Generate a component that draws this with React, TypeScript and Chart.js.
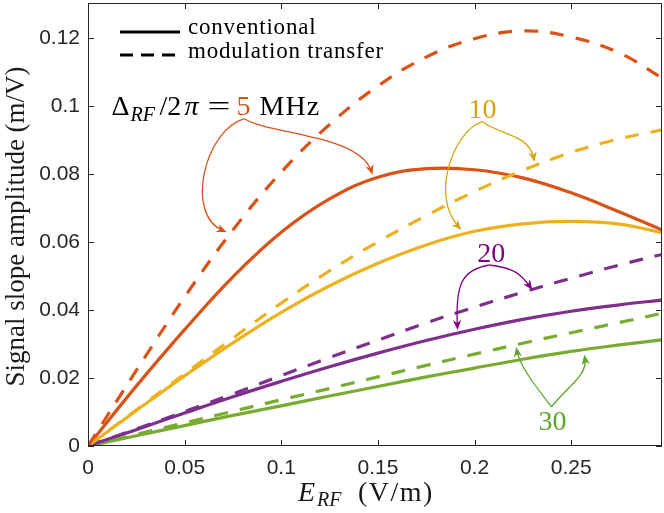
import React, { useEffect, useRef } from "react";
import { Chart, registerables } from "chart.js";
Chart.register(...registerables);

// ---- data ----
const fieldEV = [0, 0.025, 0.05, 0.075, 0.1, 0.125, 0.15, 0.175, 0.2, 0.225, 0.25, 0.275, 0.297];
const conv5 = [0, 0.0176, 0.0342, 0.0497, 0.0628, 0.0726, 0.079, 0.0815, 0.0812, 0.0788, 0.0744, 0.0688, 0.0635];
const mt5 = [0, 0.0222, 0.0438, 0.0635, 0.0805, 0.0945, 0.1058, 0.1143, 0.1197, 0.122, 0.1202, 0.1155, 0.1082];
const conv10 = [0, 0.0104, 0.0206, 0.0303, 0.0393, 0.0471, 0.0537, 0.0591, 0.0631, 0.0653, 0.066, 0.0652, 0.0627];
const mt10 = [0, 0.0106, 0.0212, 0.0317, 0.042, 0.0515, 0.06, 0.0677, 0.0748, 0.081, 0.0863, 0.0903, 0.0929];
const conv20 = [0, 0.0048, 0.0097, 0.0145, 0.019, 0.0233, 0.0273, 0.031, 0.0343, 0.0372, 0.0396, 0.0415, 0.0429];
const mt20 = [0, 0.005, 0.0101, 0.0153, 0.0207, 0.026, 0.0311, 0.0362, 0.0408, 0.0452, 0.0493, 0.0532, 0.0563];
const conv30 = [0, 0.003, 0.006, 0.009, 0.0118, 0.0147, 0.0175, 0.0203, 0.0229, 0.0255, 0.0278, 0.0297, 0.0312];
const mt30 = [0, 0.0034, 0.0068, 0.0102, 0.0136, 0.0169, 0.0203, 0.0237, 0.027, 0.0302, 0.0333, 0.0363, 0.039];

const xTicks = [0, 0.05, 0.1, 0.15, 0.2, 0.25];
const yTicks = [0, 0.02, 0.04, 0.06, 0.08, 0.1, 0.12];
const xRange = [0, 0.297];
const yRange = [0, 0.1302];

const detunings = ["5", "10", "20", "30"];
const lineColors = ["#D95319", "#EDB120", "#7E2F8E", "#77AC30"];
const labelColors = ["#D95319", "#D6A40C", "#800080", "#5EA52B"];

const legendLabels = ["conventional", "modulation transfer"];
const xTitle = ["E", "RF", "(V/m)"];
const yTitle = "Signal slope amplitude (m/V)";

// annotation anchors in data coordinates: label position + two bezier arrows [start, cp1, cp2, tip]
const annotLabels = [
  { at: [0.2041, 0.0965] },
  { at: [0.2087, 0.0541] },
  { at: [0.2403, 0.0047] },
];
const annotArrows = [
  [
    [[0.081, 0.0962], [0.0603, 0.0929], [0.05, 0.0679], [0.0717, 0.0629]],
    [[0.081, 0.0962], [0.094, 0.0915], [0.1405, 0.0915], [0.1472, 0.0797]],
  ],
  [
    [[0.2041, 0.0953], [0.1896, 0.0929], [0.1767, 0.0738], [0.1932, 0.0635]],
    [[0.2041, 0.0953], [0.2129, 0.0915], [0.2284, 0.0915], [0.231, 0.0835]],
  ],
  [
    [[0.2077, 0.0532], [0.1932, 0.0518], [0.1901, 0.0474], [0.1912, 0.0341]],
    [[0.2077, 0.0532], [0.2206, 0.0524], [0.2243, 0.0503], [0.2299, 0.0459]],
  ],
  [
    [[0.2398, 0.0115], [0.231, 0.0179], [0.2232, 0.0238], [0.2216, 0.0291]],
    [[0.2398, 0.0115], [0.249, 0.0179], [0.2584, 0.0209], [0.2568, 0.0268]],
  ],
];
const mainLabelAt = [0.0122, 0.0974];

const SERIF = '"Liberation Serif", "Times New Roman", serif';
const SANS = '"Liberation Sans", Arial, sans-serif';
const AXIS = "#262626";

function drawArrow(ctx: CanvasRenderingContext2D, pts: number[][], color: string) {
  const [s, c1, c2, e] = pts;
  ctx.save();
  ctx.strokeStyle = color;
  ctx.fillStyle = color;
  ctx.lineWidth = 1.3;
  const ang = Math.atan2(e[1] - c2[1], e[0] - c2[0]);
  const dx = Math.cos(ang), dy = Math.sin(ang);
  const L = 10, W = 4.2;
  ctx.beginPath();
  ctx.moveTo(s[0], s[1]);
  ctx.bezierCurveTo(c1[0], c1[1], c2[0], c2[1], e[0] - dx * 4, e[1] - dy * 4);
  ctx.stroke();
  const bx = e[0] - dx * L, by = e[1] - dy * L;
  ctx.beginPath();
  ctx.moveTo(e[0], e[1]);
  ctx.lineTo(bx - dy * W, by + dx * W);
  ctx.lineTo(e[0] - dx * L * 0.7, e[1] - dy * L * 0.7);
  ctx.lineTo(bx + dy * W, by - dx * W);
  ctx.closePath();
  ctx.fill();
  ctx.restore();
}

const decorPlugin = {
  id: "decor",
  afterDatasetsDraw(chart: any) {
    const { ctx, chartArea: ca, scales } = chart;
    const xs = scales.x, ys = scales.y;
    const P = (p: number[]) => [xs.getPixelForValue(p[0]), ys.getPixelForValue(p[1])];

    // box
    ctx.save();
    ctx.strokeStyle = AXIS;
    ctx.lineWidth = 1;
    ctx.strokeRect(Math.round(ca.left) + 0.5, Math.round(ca.top) + 0.5, Math.round(ca.right - ca.left) - 1, Math.round(ca.bottom - ca.top) - 1);
    const TL = 6;
    ctx.beginPath();
    xTicks.forEach((v) => {
      const px = Math.round(xs.getPixelForValue(v)) + 0.5;
      ctx.moveTo(px, ca.bottom);
      ctx.lineTo(px, ca.bottom - TL);
      ctx.moveTo(px, ca.top);
      ctx.lineTo(px, ca.top + TL);
    });
    yTicks.forEach((v) => {
      const py = Math.round(ys.getPixelForValue(v)) + 0.5;
      ctx.moveTo(ca.left, py);
      ctx.lineTo(ca.left + TL, py);
      ctx.moveTo(ca.right, py);
      ctx.lineTo(ca.right - TL, py);
    });
    ctx.stroke();
    ctx.restore();

    // legend
    ctx.save();
    ctx.strokeStyle = "#000";
    ctx.lineWidth = 3;
    ctx.beginPath();
    ctx.moveTo(ca.left + 32, ca.top + 29);
    ctx.lineTo(ca.left + 92, ca.top + 29);
    ctx.stroke();
    ctx.setLineDash([13, 8]);
    ctx.beginPath();
    ctx.moveTo(ca.left + 32, ca.top + 52);
    ctx.lineTo(ca.left + 95, ca.top + 52);
    ctx.stroke();
    ctx.setLineDash([]);
    ctx.fillStyle = "#000";
    ctx.font = `23px ${SERIF}`;
    (ctx as any).letterSpacing = "0.8px";
    ctx.textBaseline = "alphabetic";
    ctx.fillText(legendLabels[0], ca.left + 100, ca.top + 31);
    ctx.fillText(legendLabels[1], ca.left + 100, ca.top + 55);
    ctx.restore();

    // main label  Δ_RF/2π = 5 MHz
    ctx.save();
    const [lx, ly] = P(mainLabelAt);
    ctx.textBaseline = "alphabetic";
    const big = `28px ${SERIF}`;
    const bigI = `italic 28px ${SERIF}`;
    const sub = `italic 20px ${SERIF}`;
    const pieces: [string, string, string, number, number][] = [
      ["\u0394", big, "#000", 0, 0],
      ["RF", sub, "#000", 6, 19],
      ["/2", big, "#000", 0, 48],
      ["\u03C0", bigI, "#000", 0, 73],
      ["=", big, "#000", 0, 96],
      [detunings[0], big, labelColors[0], 0, 125],
      ["MHz", big, "#000", 0, 148],
    ];
    pieces.forEach(([t, f, c, dy, off]) => {
      ctx.font = f;
      ctx.fillStyle = c;
      if (t === "=") {
        ctx.save();
        ctx.translate(lx + off, ly);
        ctx.scale(1.45, 1);
        ctx.fillText(t, 0, 0);
        ctx.restore();
      } else if (t === "MHz") {
        (ctx as any).letterSpacing = "1px";
        ctx.fillText(t, lx + off, ly + dy);
        (ctx as any).letterSpacing = "0px";
      } else {
        ctx.fillText(t, lx + off, ly + dy);
      }
    });
    ctx.restore();

    // other labels
    ctx.save();
    ctx.font = `28px ${SERIF}`;
    ctx.textAlign = "center";
    ctx.textBaseline = "alphabetic";
    annotLabels.forEach((a, i) => {
      const [px, py] = P(a.at);
      ctx.fillStyle = labelColors[i + 1];
      ctx.fillText(detunings[i + 1], px, py);
    });
    ctx.restore();

    // arrows
    annotArrows.forEach((pair, i) => {
      pair.forEach((arr) => drawArrow(ctx, arr.map(P), labelColors[i]));
    });
  },
  afterDraw(chart: any) {
    const { ctx, chartArea: ca } = chart;
    // x title
    ctx.save();
    ctx.fillStyle = "#1a1a1a";
    ctx.textBaseline = "alphabetic";
    const base = ca.bottom + 55;
    const x0 = (ca.left + ca.right) / 2 - 77;
    ctx.font = `italic 28px ${SERIF}`;
    ctx.fillText(xTitle[0], x0, base);
    ctx.font = `italic 20px ${SERIF}`;
    ctx.fillText(xTitle[1], x0 + 19, base + 5);
    ctx.font = `28px ${SERIF}`;
    (ctx as any).letterSpacing = "1.5px";
    ctx.fillText(xTitle[2], x0 + 60, base);
    ctx.restore();

    // y title
    ctx.save();
    ctx.fillStyle = "#1a1a1a";
    ctx.font = `27px ${SERIF}`;
    ctx.textAlign = "center";
    ctx.textBaseline = "middle";
    ctx.translate(17, (ca.top + ca.bottom) / 2 + 2);
    ctx.rotate(-Math.PI / 2);
    ctx.fillText(yTitle, 0, 0);
    ctx.restore();
  },
};

const fmt = (v: number) => (v === 0 ? "0" : String(+v.toFixed(3)));

export default function App() {
  const ref = useRef<HTMLCanvasElement | null>(null);
  useEffect(() => {
    if (!ref.current) return;
    const series = [
      { d: mt5, c: 0, dash: true },
      { d: mt10, c: 1, dash: true },
      { d: mt20, c: 2, dash: true },
      { d: mt30, c: 3, dash: true },
      { d: conv5, c: 0, dash: false },
      { d: conv10, c: 1, dash: false },
      { d: conv20, c: 2, dash: false },
      { d: conv30, c: 3, dash: false },
    ];
    const chart = new Chart(ref.current, {
      type: "line",
      data: {
        datasets: series.map((s) => ({
          label: `${detunings[s.c]} MHz ${s.dash ? legendLabels[1] : legendLabels[0]}`,
          data: fieldEV.map((x, i) => ({ x, y: s.d[i] })),
          borderColor: lineColors[s.c],
          borderWidth: 3.2,
          borderDash: s.dash ? [14, 12] : [],
          pointRadius: 0,
          fill: false,
          tension: 0.4,
        })),
      },
      options: {
        animation: false,
        responsive: false,
        maintainAspectRatio: false,
        layout: { padding: { top: 3, right: 2, left: 0, bottom: 0 } },
        plugins: { legend: { display: false }, tooltip: { enabled: false } },
        scales: {
          x: {
            type: "linear",
            min: xRange[0],
            max: xRange[1],
            grid: { display: false, drawTicks: false },
            border: { display: false },
            afterBuildTicks: (s: any) => {
              s.ticks = xTicks.map((value) => ({ value }));
            },
            afterFit: (s: any) => {
              s.height = 67;
              s.paddingLeft = 0;
              s.paddingRight = 0;
              s.paddingTop = 0;
              s.paddingBottom = 0;
            },
            ticks: {
              maxRotation: 0,
              autoSkip: false,
              padding: 10,
              color: AXIS,
              font: { family: SANS, size: 21 },
              callback: (v: any) => fmt(Number(v)),
            },
          },
          y: {
            type: "linear",
            min: yRange[0],
            max: yRange[1],
            grid: { display: false, drawTicks: false },
            border: { display: false },
            afterBuildTicks: (s: any) => {
              s.ticks = yTicks.map((value) => ({ value }));
            },
            afterFit: (s: any) => {
              s.width = 88;
              s.paddingLeft = 0;
              s.paddingRight = 0;
              s.paddingTop = 0;
              s.paddingBottom = 0;
            },
            ticks: {
              autoSkip: false,
              padding: 8,
              color: AXIS,
              font: { family: SANS, size: 21 },
              callback: (v: any) => fmt(Number(v)),
            },
          },
        },
      },
      plugins: [decorPlugin],
    });
    return () => chart.destroy();
  }, []);
  return (
    <div style={{ position: "absolute", left: 0, top: 0, width: 664, height: 513 }}>
      <canvas ref={ref} width={664} height={513} style={{ display: "block", width: 664, height: 513 }} />
    </div>
  );
}
